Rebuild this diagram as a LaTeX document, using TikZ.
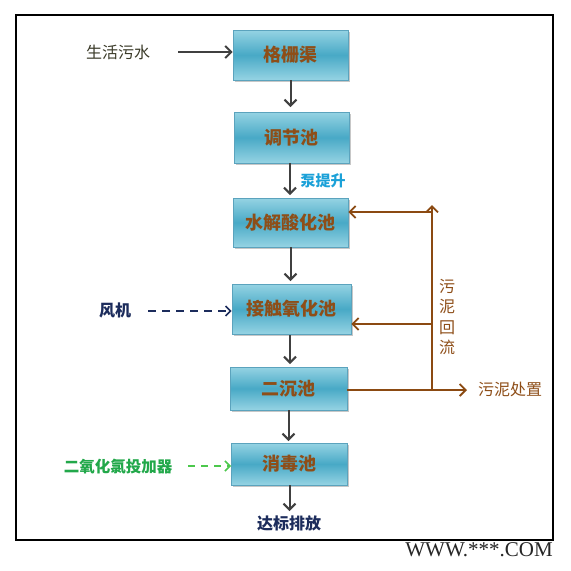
\documentclass[tikz,border=0pt]{standalone}
\usepackage{fontspec}
\setmainfont{Liberation Serif}
\newfontfamily\cjk{Noto Sans CJK SC}
\usetikzlibrary{arrows.meta}
\definecolor{boxlight}{HTML}{95D3E3}
\definecolor{boxdark}{HTML}{48A9C6}
\definecolor{boxborder}{HTML}{5BA3BD}
\definecolor{boxtext}{HTML}{8E4E18}
\definecolor{flowgray}{HTML}{404040}
\definecolor{brownline}{HTML}{8B4A12}
\definecolor{navy}{HTML}{1C2C5C}
\definecolor{pumpcyan}{HTML}{1BA1D8}
\definecolor{greentext}{HTML}{22A84A}
\definecolor{greenline}{HTML}{4CC84C}
\definecolor{olive}{HTML}{3A3A28}
\tikzset{
  tank/.style={rectangle, draw=boxborder, line width=0.8pt,
    top color=boxlight, bottom color=boxlight, middle color=boxdark,
    minimum width=116pt, minimum height=50pt, inner sep=0pt,
    font=\cjk\bfseries\fontsize{18}{18}\selectfont, text=boxtext},
  shadowbox/.style={fill=black!22, draw=none},
  flow/.style={draw=flowgray, line width=2pt, -{Straight Barb[length=6pt,width=12pt]}},
  sludge/.style={draw=brownline, line width=1.8pt},
  sludgearrow/.style={sludge, -{Straight Barb[length=6pt,width=12pt]}},
  lbl/.style={font=\cjk\fontsize{16}{16}\selectfont, inner sep=0pt},
}
\begin{document}
\begin{tikzpicture}[x=1pt,y=-1pt]
\useasboundingbox (0,0) rectangle (571,571);
\fill[white] (0,0) rectangle (571,571);
\draw[line width=2.5pt] (16,15) rectangle (553,540);

% shadows
\fill[shadowbox] (235,32) rectangle (350,82);
\fill[shadowbox] (236,114) rectangle (351,165);
\fill[shadowbox] (235,200) rectangle (350,249);
\fill[shadowbox] (234,286) rectangle (353,336);
\fill[shadowbox] (232,369) rectangle (349,412);
\fill[shadowbox] (233,445) rectangle (349,487);

\node[tank, minimum width=115pt, minimum height=50pt] (g1) at (290.5,55) {格栅渠};
\node[tank, minimum width=115pt, minimum height=51pt] (g2) at (291.5,137.5) {调节池};
\node[tank, minimum width=115pt, minimum height=49pt] (g3) at (290.5,222.5) {水解酸化池};
\node[tank, minimum width=119pt, minimum height=50pt] (g4) at (291.5,309) {接触氧化池};
\node[tank, minimum width=117pt, minimum height=43pt] (g5) at (288.5,388.5) {二沉池};
\node[tank, minimum width=116pt, minimum height=42pt] (g6) at (289.5,464) {消毒池};

\node[lbl, text=olive] (src) at (118,52) {生活污水};
\node[lbl, text=pumpcyan, font=\cjk\bfseries\fontsize{15}{15}\selectfont] (pump) at (323,181) {泵提升};
\node[lbl, text=navy, font=\cjk\bfseries\fontsize{16}{16}\selectfont] (fan) at (115,310) {风机};
\node[lbl, text=greentext, font=\cjk\bfseries\fontsize{15.5}{15.5}\selectfont] (clo) at (118,467) {二氧化氯投加器};
\node[lbl, text=navy, font=\cjk\bfseries\fontsize{16}{16}\selectfont] (out) at (289,523) {达标排放};
\node[lbl, text=boxtext] (disp) at (510,389) {污泥处置};
\node[lbl, text=boxtext, align=center, font=\cjk\fontsize{16}{20.5}\selectfont] (ret) at (447,317) {污\\泥\\回\\流};
\node[font=\fontsize{21}{21}\selectfont, text=black!85, anchor=east, inner sep=0pt] (www) at (553,550) {WWW.***.COM};

% main flow
\coordinate (a1) at (290.5,107);
\coordinate (a2s) at (290,163);
\coordinate (a2) at (290,195);
\coordinate (a3) at (290.5,281);
\coordinate (a4s) at (290,335);
\coordinate (a4) at (290,364);
\coordinate (a5) at (288.5,441);
\coordinate (a6) at (289.5,511);
\coordinate (srcend) at (178,52);
\draw[flow] (srcend) -- (g1.west |- srcend);
\draw[flow] (g1.south) -- (a1);
\draw[flow] (a2s) -- (a2);
\draw[flow] (g3.south) -- (a3);
\draw[flow] (a4s) -- (a4);
\draw[flow] (g5.south) -- (a5);
\draw[flow] (g6.south) -- (a6);

% dashed inputs
\coordinate (fanend) at (148,311);
\coordinate (cloend) at (188,466);
\draw[draw=navy, line width=1.5pt, dash pattern=on 8pt off 6pt, -{Straight Barb[length=5pt,width=10pt]}]
  (fanend) -- (g4.west |- fanend);
\draw[draw=greenline, line width=1.6pt, dash pattern=on 7pt off 6pt, -{Straight Barb[length=5pt,width=10pt]}]
  (cloend) -- (g6.west |- cloend);

% sludge
\coordinate (j) at (432,390);
\coordinate (top) at (432,205);
\coordinate (r1) at (432,212);
\coordinate (r2) at (432,324);
\coordinate (dispend) at (467,390);
\draw[sludgearrow] (g5.east |- j) -- (dispend);
\draw[sludgearrow] (j) -- (top);
\draw[sludgearrow] (r1) -- (g3.east |- r1);
\draw[sludgearrow] (r2) -- (g4.east |- r2);
\end{tikzpicture}
\end{document}
